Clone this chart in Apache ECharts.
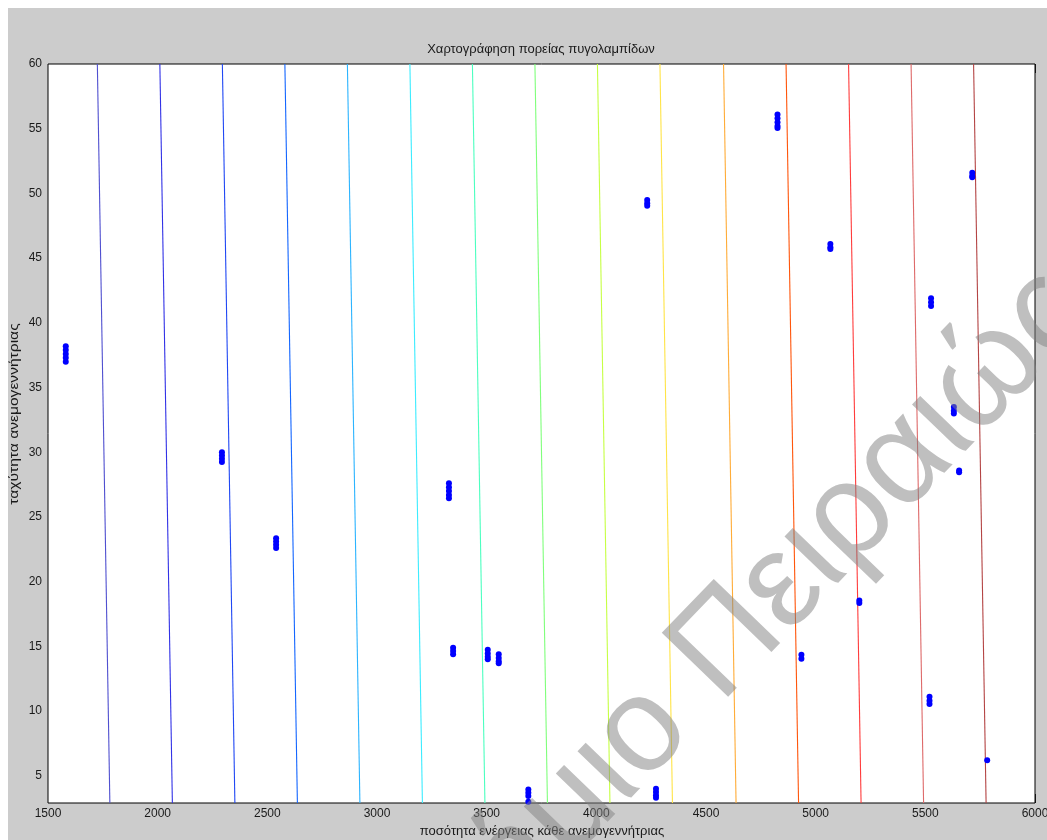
<!DOCTYPE html>
<html>
<head>
<meta charset="utf-8">
<title>Χαρτογράφηση πορείας πυγολαμπίδων</title>
<script src="https://cdn.jsdelivr.net/npm/echarts@6/dist/echarts.min.js"></script>
<style>
  html, body { margin: 0; padding: 0; background: #ffffff; }
  #chart { width: 1047px; height: 840px; }
</style>
</head>
<body>
<div id="chart"></div>
<script>
// Axis ranges and tick labels
const xRange = [1500, 6000];
const yRange = [2.9, 60];
const xTicks = [1500, 2000, 2500, 3000, 3500, 4000, 4500, 5000, 5500, 6000];
const yTicks = [5, 10, 15, 20, 25, 30, 35, 40, 45, 50, 55, 60];

// Contour levels of f(x, y) = x + y, with their colours (jet-like)
const levels = [1785, 2070, 2355, 2640, 2925, 3210, 3495, 3780, 4065, 4350, 4640, 4925, 5210, 5495, 5780];
const levelColors = ['#5050d0', '#3232e6', '#2048f4', '#1466ff', '#2cb4ff', '#3cecff', '#4cffc0', '#80ff7c',
                     '#c6ff44', '#ffe448', '#ffac38', '#ff560c', '#ff3c3c', '#de6a6a', '#b44444'];

// Firefly positions: energy amount (x) and turbine speed (y)
const fireflies = [
  [1581, 38.2], [1581, 37.9], [1581, 37.6], [1581, 37.3], [1581, 37.0],
  [2293, 30.0], [2293, 29.75], [2293, 29.5], [2293, 29.25],
  [2540, 23.35], [2540, 23.1], [2540, 22.85], [2540, 22.6],
  [3328, 27.6], [3328, 27.3], [3328, 27.0], [3328, 26.7], [3328, 26.45],
  [3347, 14.9], [3347, 14.65], [3347, 14.4],
  [3505, 14.75], [3505, 14.45], [3505, 14.2], [3505, 14.0],
  [3555, 14.4], [3555, 14.1], [3555, 13.85], [3555, 13.7],
  [3690, 3.95], [3690, 3.7], [3690, 3.45], [3690, 3.0],
  [4272, 4.0], [4272, 3.75], [4272, 3.5], [4272, 3.3],
  [4232, 49.5], [4232, 49.25], [4232, 49.05],
  [4826, 56.1], [4826, 55.8], [4826, 55.5], [4826, 55.2], [4826, 55.05],
  [5067, 46.1], [5067, 45.85], [5067, 45.7],
  [5714, 51.6], [5714, 51.35], [5714, 51.25],
  [5526, 41.9], [5526, 41.6], [5526, 41.3],
  [5630, 33.5], [5630, 33.2], [5630, 33.0],
  [5654, 28.6], [5654, 28.45],
  [5199, 18.55], [5199, 18.35],
  [4935, 14.35], [4935, 14.05],
  [5519, 11.1], [5519, 10.8], [5519, 10.55],
  [5782, 6.2]
];

const titleText = 'Χαρτογράφηση πορείας πυγολαμπίδων';
const xName = 'ποσότητα ενέργειας κάθε ανεμογεννήτριας';
const yName = 'ταχύτητα ανεμογεννήτριας';
const watermark = ['Πανεπιστήμιο', 'Πειραιώς'];

const FONT = '"Liberation Sans", Arial, sans-serif';
const ink = '#1a1a1a';

const chart = echarts.init(document.getElementById('chart'), null, { renderer: 'canvas' });

// each contour x + y = L is the straight segment between the y limits
const contourSeries = levels.map((L, i) => ({
  type: 'line',
  xAxisIndex: 0,
  yAxisIndex: 0,
  data: [[L - yRange[1], yRange[1]], [L - yRange[0], yRange[0]]],
  symbol: 'none',
  silent: true,
  animation: false,
  lineStyle: { color: levelColors[i], width: 1.1 },
  z: 2
}));

const tickStyle = { show: true, inside: true, length: 9, lineStyle: { color: '#262626', width: 1 } };
const plain = v => String(v);

const wmAngle = 46 * Math.PI / 180;
const wmFont = 'normal 134px ' + FONT;
const wmColor = 'rgba(128,128,128,0.5)';

chart.setOption({
  backgroundColor: '#ffffff',
  animation: false,
  grid: {
    left: 48, right: 12, top: 64, bottom: 37,
    containLabel: false, outerBoundsMode: 'none',
    show: true, backgroundColor: '#ffffff', borderColor: '#000000', borderWidth: 1, z: 1
  },
  xAxis: [
    {
      type: 'value', min: xRange[0], max: xRange[1], interval: 500, position: 'bottom',
      axisLine: { show: false },
      axisTick: tickStyle,
      axisLabel: { color: ink, fontSize: 12, fontFamily: FONT, margin: 5, formatter: plain,
                   customValues: xTicks, showMinLabel: true, showMaxLabel: true, hideOverlap: false },
      splitLine: { show: false }
    },
    {
      type: 'value', min: xRange[0], max: xRange[1], interval: 500, position: 'top',
      axisLine: { show: false },
      axisTick: tickStyle,
      axisLabel: { show: false },
      splitLine: { show: false }
    }
  ],
  yAxis: [
    {
      type: 'value', min: yRange[0], max: yRange[1], position: 'left',
      axisLine: { show: false },
      axisTick: Object.assign({ customValues: yTicks }, tickStyle),
      axisLabel: { color: ink, fontSize: 12, fontFamily: FONT, margin: 6, formatter: plain, customValues: yTicks },
      splitLine: { show: false }
    },
    {
      type: 'value', min: yRange[0], max: yRange[1], position: 'right',
      axisLine: { show: false },
      axisTick: Object.assign({ customValues: yTicks }, tickStyle),
      axisLabel: { show: false, customValues: yTicks },
      splitLine: { show: false }
    }
  ],
  series: contourSeries.concat([{
    type: 'scatter',
    xAxisIndex: 0,
    yAxisIndex: 0,
    data: fireflies,
    symbol: 'circle',
    symbolSize: 6,
    clip: false,
    itemStyle: { color: '#0000ff', opacity: 1 },
    z: 5
  }]),
  graphic: [
    { type: 'rect', z: -10, silent: true, shape: { x: 8, y: 8, width: 1039, height: 832 }, style: { fill: '#cccccc' } },
    { type: 'text', z: 10, x: 541, y: 49, style: { text: titleText, font: '13px ' + FONT, fill: ink, align: 'center', verticalAlign: 'middle' } },
    { type: 'text', z: 10, x: 542, y: 831, style: { text: xName, font: '13px ' + FONT, fill: ink, align: 'center', verticalAlign: 'middle' } },
    { type: 'text', z: 10, x: 14, y: 414, rotation: Math.PI / 2, scaleX: 1.2,
      style: { text: yName, font: '13px ' + FONT, fill: ink, align: 'center', verticalAlign: 'middle' } },
    { type: 'text', z: 100, silent: true, x: 694, y: 679, rotation: wmAngle,
      style: { text: watermark[1], font: wmFont, fill: wmColor, align: 'left', verticalAlign: 'middle' } },
    { type: 'text', z: 100, silent: true, x: 668, y: 706, rotation: wmAngle,
      style: { text: watermark[0], font: wmFont, fill: wmColor, align: 'right', verticalAlign: 'middle' } }
  ]
});
</script>
</body>
</html>
